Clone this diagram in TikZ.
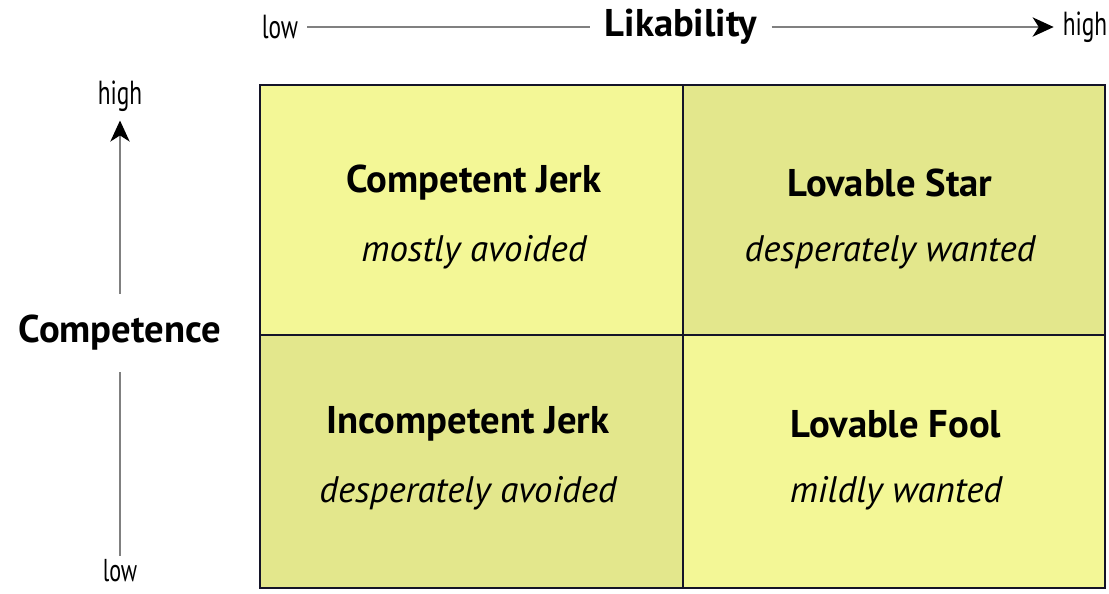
\documentclass[tikz,border=0pt]{standalone}
\usepackage{fontspec}
\setmainfont{PT Sans}
\usepackage{tikz}
\usetikzlibrary{arrows.meta,positioning}
\definecolor{lite}{RGB}{243,247,150}
\definecolor{dark}{RGB}{227,231,140}
\definecolor{gridline}{RGB}{20,20,40}
\tikzset{
  title/.style={font=\fontsize{22}{26}\selectfont\bfseries},
  sub/.style={font=\fontsize{21}{25}\selectfont\itshape},
  tick/.style={font=\fontsize{19}{21}\selectfont, inner sep=5pt},
  axis/.style={draw=black!50, line width=0.9pt},
  tip/.style={-{Stealth[length=12pt,width=11pt,inset=3.5pt,black]}}
}
\newcommand{\narrow}[1]{\scalebox{0.7}[1]{#1}}
\begin{document}
\begin{tikzpicture}[x=0.02cm,y=-0.02cm]
\useasboundingbox (0,0) rectangle (1109,593);
% quadrants
\fill[lite](260,85)rectangle(683,335);
\fill[dark](683,85)rectangle(1105,335);
\fill[dark](260,335)rectangle(683,588);
\fill[lite](683,335)rectangle(1105,588);
\draw[gridline,line width=1.6pt](260,85)rectangle(1105,588);
\draw[gridline,line width=1.6pt](683,85)--(683,588);
\draw[gridline,line width=1.6pt](260,335)--(1105,335);
% quadrant texts
\node[title](cj)at(474,183){Competent Jerk};
\node[sub]at(474,252){mostly avoided};
\node[title](ls)at(890,183){Lovable Star};
\node[sub]at(890,252){desperately wanted};
\node[title](ij)at(468,424){Incompetent Jerk};
\node[sub]at(468,493){desperately avoided};
\node[title](lf)at(896,424){Lovable Fool};
\node[sub]at(896,493){mildly wanted};
% likability axis
\node[tick](xlow)at(280,27){\narrow{low}};
\node[title,inner sep=8pt](likab)at(681,27){Likability};
\node[tick](xhigh)at(1085,27){\narrow{high}};
\draw[axis](xlow)--(likab);
\draw[axis,tip](likab)--(xhigh);
% competence axis
\node[tick](yhigh)at(120,96){\narrow{high}};
\node[title,inner sep=12pt](comp)at(120,333){Competence};
\node[tick,font=\fontsize{18}{20}\selectfont,inner sep=2pt](ylow)at(120,571){\narrow{low}};
\draw[axis,tip](comp)--(yhigh);
\draw[axis](comp)--(ylow);
\end{tikzpicture}
\end{document}
